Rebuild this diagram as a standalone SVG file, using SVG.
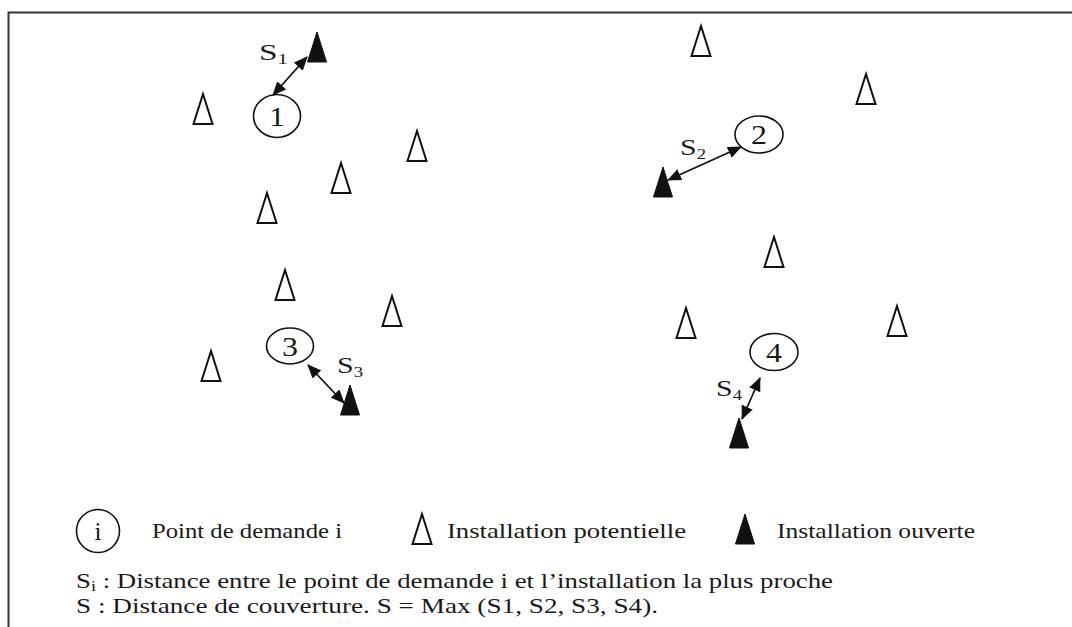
<svg xmlns="http://www.w3.org/2000/svg" xmlns:xlink="http://www.w3.org/1999/xlink" width="1072" height="627" viewBox="0 0 1072 627">
<style>
.t{font-family:"Liberation Serif","Times New Roman",serif;fill:#1a1a1a}
.lbl{font-size:24px}
.num{font-size:27px;text-anchor:middle}
.leg{font-size:22px}
.sub{font-size:15px}
.node{fill:none;stroke:#111;stroke-width:1.6}
.open{fill:none;stroke:#111;stroke-width:2}
.closed{fill:#111;stroke:#111;stroke-width:1}
.conn{stroke:#111;stroke-width:1.8;fill:none;marker-start:url(#ah);marker-end:url(#ah)}
</style>
<defs>
<marker id="ah" viewBox="0 0 14 12" refX="13" refY="6" markerWidth="14" markerHeight="12" markerUnits="userSpaceOnUse" orient="auto-start-reverse">
<path d="M0,0 L14,6 L0,12 Z" fill="#111"/>
</marker>
<path id="tri" d="M0,0 L-9.5,30 L9.5,30 Z"/>
</defs>
<rect width="1072" height="627" fill="#fff"/>
<path d="M8.5,627 V12.5 H1072" fill="none" stroke="#333" stroke-width="2"/>

<g id="demand1"><ellipse class="node" cx="277" cy="116" rx="23.5" ry="21.5"/><text class="t num" x="277" y="125.5" textLength="16" lengthAdjust="spacingAndGlyphs">1</text></g>
<g id="demand2"><ellipse class="node" cx="759" cy="134.5" rx="24" ry="18.5"/><text class="t num" x="759" y="144" textLength="16" lengthAdjust="spacingAndGlyphs">2</text></g>
<g id="demand3"><ellipse class="node" cx="290" cy="346" rx="23.5" ry="18"/><text class="t num" x="290" y="355.5" textLength="16" lengthAdjust="spacingAndGlyphs">3</text></g>
<g id="demand4"><ellipse class="node" cx="774" cy="352" rx="24" ry="18.5"/><text class="t num" x="774" y="361.5" textLength="16" lengthAdjust="spacingAndGlyphs">4</text></g>

<g id="open1"><use xlink:href="#tri" class="closed" x="317" y="32"/></g>
<g id="open2"><use xlink:href="#tri" class="closed" x="663" y="167"/></g>
<g id="open3"><use xlink:href="#tri" class="closed" x="350" y="385"/></g>
<g id="open4"><use xlink:href="#tri" class="closed" x="739" y="418"/></g>

<g id="potential">
<use xlink:href="#tri" class="open" x="701" y="26"/>
<use xlink:href="#tri" class="open" x="866" y="74"/>
<use xlink:href="#tri" class="open" x="203" y="94"/>
<use xlink:href="#tri" class="open" x="417" y="131"/>
<use xlink:href="#tri" class="open" x="341" y="163"/>
<use xlink:href="#tri" class="open" x="267" y="193"/>
<use xlink:href="#tri" class="open" x="774" y="237"/>
<use xlink:href="#tri" class="open" x="285" y="270"/>
<use xlink:href="#tri" class="open" x="392" y="296"/>
<use xlink:href="#tri" class="open" x="686" y="308"/>
<use xlink:href="#tri" class="open" x="897" y="306"/>
<use xlink:href="#tri" class="open" x="211" y="351"/>
</g>

<g id="connectors">
<line class="conn" x1="273" y1="95" x2="307" y2="57"/>
<line class="conn" x1="741" y1="147" x2="668" y2="180"/>
<line class="conn" x1="308" y1="365" x2="344" y2="403"/>
<line class="conn" x1="760" y1="378" x2="742" y2="419"/>
</g>

<g id="labels">
<text class="t lbl" x="259" y="60" textLength="29" lengthAdjust="spacingAndGlyphs">S<tspan class="sub" dy="4">1</tspan></text>
<text class="t lbl" x="680" y="155" textLength="26" lengthAdjust="spacingAndGlyphs">S<tspan class="sub" dy="4">2</tspan></text>
<text class="t lbl" x="337" y="373" textLength="26" lengthAdjust="spacingAndGlyphs">S<tspan class="sub" dy="4">3</tspan></text>
<text class="t lbl" x="716" y="396" textLength="26" lengthAdjust="spacingAndGlyphs">S<tspan class="sub" dy="4">4</tspan></text>
</g>

<g id="legend">
<g id="leg-demand"><ellipse class="node" cx="98" cy="531" rx="21.5" ry="21.5"/><text class="t" style="font-size:25px" x="98" y="540" text-anchor="middle">i</text><text class="t leg" x="152" y="538" textLength="190" lengthAdjust="spacingAndGlyphs">Point de demande i</text></g>
<g id="leg-potential"><use xlink:href="#tri" class="open" x="422" y="514"/><text class="t leg" x="447" y="538" textLength="239" lengthAdjust="spacingAndGlyphs">Installation potentielle</text></g>
<g id="leg-open"><use xlink:href="#tri" class="closed" x="745" y="514"/><text class="t leg" x="777" y="538" textLength="198" lengthAdjust="spacingAndGlyphs">Installation ouverte</text></g>
<text class="t leg" x="76" y="588" textLength="757" lengthAdjust="spacingAndGlyphs">S<tspan class="sub" dy="3">i</tspan><tspan dy="-3"> : Distance entre le point de demande i et l’installation la plus proche</tspan></text>
<text class="t leg" x="76" y="613" textLength="582" lengthAdjust="spacingAndGlyphs">S : Distance de couverture. S = Max (S1, S2, S3, S4).</text>
</g>
</svg>
